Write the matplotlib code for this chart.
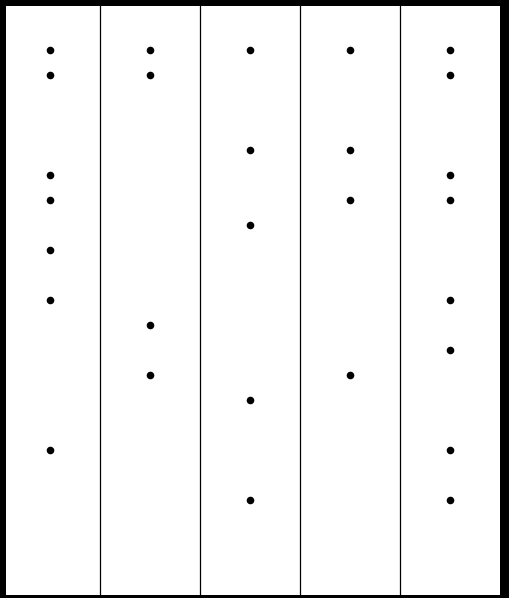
import matplotlib
matplotlib.use("Agg")
import matplotlib.pyplot as plt

# one list of dot rows per column (y in pixels from the top)
col_a = [50, 75, 175, 200, 250, 300, 450]
col_b = [50, 75, 325, 375]
col_c = [50, 150, 225, 400, 500]
col_d = [50, 150, 200, 375]
col_e = [50, 75, 175, 200, 300, 350, 450, 500]
columns = [col_a, col_b, col_c, col_d, col_e]
col_centers = [50, 150, 250, 350, 450]
dividers = [100, 200, 300, 400]

W, H = 509, 598
fig = plt.figure(figsize=(W / 100, H / 100), dpi=100, facecolor="black")
ax = fig.add_axes([6 / W, 3 / H, 494 / W, 589 / H])
ax.set_facecolor("white")
ax.set_xlim(6, 500)
ax.set_ylim(595, 6)
ax.set_xticks([])
ax.set_yticks([])
for sp in ax.spines.values():
    sp.set_visible(False)

for d in dividers:
    ax.axvline(d, color="black", lw=0.9)

for xc, ys in zip(col_centers, columns):
    ax.scatter([xc] * len(ys), ys, s=30, color="black", linewidths=0, zorder=3)

fig.savefig("out.png", dpi=100, facecolor="black")
